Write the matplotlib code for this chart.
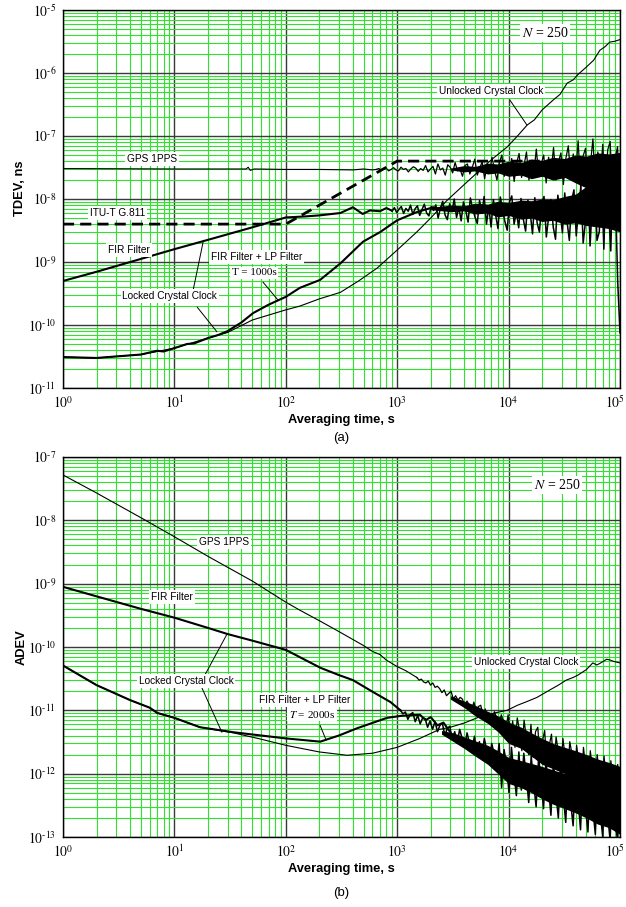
import numpy as np
import matplotlib
matplotlib.use("Agg")
import matplotlib.pyplot as plt
import matplotlib.transforms as mtransforms
from matplotlib.ticker import LogLocator, NullFormatter

# ============ data: (a) TDEV ============
itu_tau = [1, 100, 1000, 1e5]
itu_val = [4e-9, 4e-9, 4e-8, 4e-8]

gps_a_tau = [1, 10, 30, 44, 46, 48, 52, 100, 200, 400, 500, 600, 650]
gps_a_val = [3.05e-8, 3.0e-8, 3.0e-8, 3.0e-8, 3.2e-8, 2.85e-8, 3.0e-8, 2.95e-8,
             2.95e-8, 2.9e-8, 3.0e-8, 2.9e-8, 2.95e-8]
# noisy tail 650 s .. 1e5 s (x 1e-8)
gps_a_noise = [2.95, 3.05, 2.85, 3.0, 3.1, 2.8, 2.95, 3.15, 2.9, 2.8, 3.2, 2.95, 3.05, 2.7, 3.0, 3.25, 3.1, 2.75, 3.05, 2.85,
               3.4, 2.7, 3.0, 3.3, 2.5, 3.6, 2.9, 3.1, 2.4, 3.5, 3.2, 2.6, 3.8, 2.8, 3.0, 2.3, 3.4, 3.6, 2.5, 3.2,
               4.3, 2.4, 3.1, 3.9, 2.1, 3.5, 2.7, 4.6, 2.9, 2.0, 3.8, 5.0, 2.3, 3.2, 2.6, 4.4, 1.9, 3.7, 5.3, 2.2,
               3.4, 5.6, 2.0, 4.1, 2.6, 6.2, 2.3, 3.6, 5.0, 1.8, 4.6, 2.7, 6.6, 2.0, 3.9, 5.4, 1.7, 4.4, 7.0, 2.1,
               5.2, 2.5, 8.4, 1.5, 4.8, 6.4, 1.3, 3.6, 9.0, 1.6, 5.6, 2.2, 7.4, 1.1, 6.0, 8.2, 1.2, 4.2, 6.8, 1.0]
# dense core of that tail (x 1e-8)
gps_a_band_tau = [3000, 4000, 5000, 6500, 8000, 1e4, 1.3e4, 1.6e4, 2e4, 2.5e4, 3.2e4, 4e4, 5e4, 6.3e4, 8e4, 1e5]
gps_a_band_lo = [2.9, 2.7, 2.8, 2.5, 2.6, 2.3, 2.4, 2.1, 2.3, 2.0, 2.2, 1.8, 1.5, 1.4, 1.2, 1.0]
gps_a_band_hi = [3.1, 3.4, 3.3, 3.7, 3.6, 4.0, 3.8, 4.3, 4.1, 4.6, 4.4, 5.0, 4.8, 5.4, 5.2, 5.5]

fir_a_tau = [1, 2, 5, 10, 20, 50, 100, 150, 200, 309, 400, 490, 570, 700, 800, 900]
fir_a_val = [5.0e-10, 7.0e-10, 1.12e-9, 1.6e-9, 2.25e-9, 3.55e-9, 5.1e-9, 5.3e-9,
             5.5e-9, 6.0e-9, 7.4e-9, 5.8e-9, 6.6e-9, 6.4e-9, 7.2e-9, 6.5e-9]
# noisy tail 900 s .. 1e5 s (x 1e-9)
fir_a_noise = [6.5, 7.3, 6.1, 6.9, 7.6, 5.9, 7.1, 6.4, 8.0, 5.7, 7.0, 7.8, 5.5, 6.8, 8.3, 6.0, 5.4, 7.6, 6.6, 8.1,
               5.0, 7.2, 9.2, 5.6, 4.7, 8.4, 6.3, 10.0, 5.1, 7.4, 4.5, 9.0, 6.6, 4.3, 10.4, 7.0, 5.2, 4.1, 9.5, 6.0,
               11.0, 4.0, 7.6, 3.6, 9.8, 5.5, 3.4, 10.8, 6.8, 4.4, 3.2, 9.0, 11.2, 4.0, 6.2, 3.5, 10.2, 4.8, 3.1, 9.6,
               6.0, 2.8, 10.5, 4.2, 3.0, 8.6, 11.0, 2.5, 5.2, 9.8, 3.6, 2.3, 11.5, 6.2, 2.9, 12.5, 4.4, 2.2, 9.6, 14.0,
               2.6, 6.8, 16.0, 2.0, 4.4, 22.0, 1.8, 9.0, 28.0, 2.2, 3.0, 18.0, 1.6, 35.0, 7.0, 1.5, 40.0, 12.0, 0.5, 0.075]
fir_a_band_tau = [2000, 3000, 4000, 5000, 6500, 8000, 1e4, 1.3e4, 1.6e4, 2e4, 2.5e4, 3.2e4, 4e4, 5e4, 6.3e4, 8e4, 1e5]
fir_a_band_lo = [6.8, 6.3, 6.5, 5.8, 6.0, 5.2, 5.5, 4.8, 5.0, 4.4, 4.6, 4.0, 4.2, 3.8, 3.6, 3.4, 3.0]
fir_a_band_hi = [7.4, 8.0, 7.8, 8.6, 8.3, 9.2, 8.8, 9.6, 9.4, 10.0, 9.8, 11.0, 12.0, 16.0, 16.0, 15.0, 18.0]

firlp_a_tau = [1, 2, 5, 7, 8, 10, 13, 15, 20, 25, 30, 40, 51, 70, 100, 134, 203, 309,
               493, 705, 1000, 1500, 2100]
firlp_a_val = [3.1e-11, 3.0e-11, 3.4e-11, 3.9e-11, 3.8e-11, 4.3e-11, 5.0e-11, 5.1e-11,
               6.2e-11, 7.0e-11, 8.0e-11, 1.1e-10, 1.55e-10, 2.1e-10, 2.8e-10, 3.9e-10,
               5.2e-10, 9.5e-10, 2.1e-9, 3.0e-9, 4.6e-9, 6.2e-9, 7.4e-9]

unl_a_tau = [1, 2, 5, 7, 10, 20, 30, 50, 100, 134, 200, 309, 450, 660, 1000, 1500, 2000,
             2800, 4000, 5200, 7000, 9700, 12000, 14700, 17000, 20000, 25000, 29000, 33500,
             38000, 42000, 50000, 58000, 66000, 73000, 81000, 90000, 1e5]
unl_a_val = [3.1e-11, 3.0e-11, 3.4e-11, 3.8e-11, 4.3e-11, 6.2e-11, 7.6e-11, 1.2e-10,
             1.74e-10, 2.0e-10, 2.6e-10, 3.3e-10, 5.0e-10, 8.0e-10, 1.55e-9, 3.0e-9, 5.0e-9,
             9.5e-9, 1.7e-8, 2.6e-8, 4.2e-8, 6.7e-8, 1.0e-7, 1.5e-7, 1.8e-7, 2.6e-7, 3.7e-7,
             4.6e-7, 6.9e-7, 7.8e-7, 9.5e-7, 1.25e-6, 1.6e-6, 2.3e-6, 2.6e-6, 3.1e-6, 3.2e-6, 3.4e-6]

# ============ data: (b) ADEV ============
gps_b_tau = [1, 2, 5, 10, 20, 50, 100, 134, 200, 300, 500, 600, 700, 800, 1000, 1200, 1500]
gps_b_val = [5.2e-8, 2.7e-8, 1.1e-8, 5.5e-9, 2.7e-9, 1.1e-9, 5.1e-10, 3.8e-10, 2.6e-10,
             1.75e-10, 1.05e-10, 8.5e-11, 7.6e-11, 6.2e-11, 4.9e-11, 4.2e-11, 3.3e-11]
# noisy tail 1500 s .. 1e5 s (x 1e-12)
gps_b_noise = [33, 30, 31, 28, 27, 29, 25, 27, 23, 24,
               22, 19, 21, 17, 18.5, 20, 15, 17, 14.5, 16,
               15, 11.5, 14, 12, 10, 13.5, 9.5, 11.5, 12, 8.5,
               10.5, 7, 9, 6.2, 9.5, 7.5, 5.5, 8.5, 6.5, 5.0,
               8.5, 3.4, 6.8, 2.6, 7.6, 4.8, 2.3, 7.0, 3.6, 2.0,
               6.0, 1.8, 4.6, 5.4, 1.5, 3.2, 4.8, 1.3, 2.8, 4.2,
               1.1, 3.8, 2.2, 0.95, 3.6, 1.8, 0.85, 3.2, 2.0, 0.75,
               2.8, 1.4, 0.6, 2.6, 1.2, 0.5, 2.3, 1.1, 0.45, 2.0,
               0.9, 0.38, 1.9, 0.8, 0.32, 1.6, 0.7, 0.28, 1.4, 0.4]
gps_b_band_tau = [3000, 4000, 5000, 6500, 8000, 1e4, 1.3e4, 1.6e4, 2e4, 2.5e4, 3.2e4, 4e4, 5e4, 6.3e4, 8e4, 1e5]
gps_b_band_lo = [15, 11.0, 8.2, 6.2, 4.6, 3.0, 2.5, 1.9, 1.4, 1.2, 1.0, 0.85, 0.7, 0.55, 0.45, 0.4]
gps_b_band_hi = [17, 14.0, 12.0, 9.6, 8.2, 6.5, 5.4, 4.4, 3.6, 3.0, 2.6, 2.3, 2.0, 1.7, 1.5, 1.3]

fir_b_tau = [1, 2, 5, 10, 20, 30, 50, 100, 204, 300, 400, 605, 870, 1070]
fir_b_val = [8.9e-10, 6.3e-10, 4.0e-10, 2.9e-10, 2.0e-10, 1.6e-10, 1.26e-10, 9.0e-11,
             4.7e-11, 3.6e-11, 3.0e-11, 1.95e-11, 1.35e-11, 1.0e-11]
# noisy tail 1070 s .. 1e5 s (x 1e-12)
fir_b_noise = [10, 8.8, 9.4, 7.2, 8.6, 9.2, 6.6, 8.3, 6.1, 7.6,
               7.4, 5.4, 6.8, 5.0, 6.6, 4.6, 5.8, 6.2, 4.0, 5.2,
               5.6, 3.4, 4.6, 3.0, 5.0, 3.6, 2.6, 4.4, 3.0, 2.4,
               3.9, 2.0, 3.2, 1.8, 3.6, 2.3, 1.5, 3.0, 2.0, 1.3,
               3.0, 0.6, 2.4, 1.4, 0.5, 2.6, 1.0, 0.45, 2.2, 0.55,
               2.1, 0.9, 0.35, 1.9, 0.7, 0.3, 1.8, 0.8, 0.28, 1.6,
               0.6, 0.22, 1.5, 0.5, 0.2, 1.4, 0.45, 0.17, 1.25, 0.35,
               0.15, 1.15, 0.4, 0.13, 1.1, 0.3, 0.12, 1.0, 0.28, 0.11,
               0.95, 0.25, 0.1, 0.9, 0.22, 0.09, 0.85, 0.2, 0.085, 0.5]
fir_b_band_tau = [2500, 3200, 4000, 5000, 6500, 8000, 1e4, 1.3e4, 1.6e4, 2e4, 2.5e4, 3.2e4, 4e4, 5e4, 6.3e4, 8e4, 1e5]
fir_b_band_lo = [4.2, 3.2, 2.5, 1.9, 1.4, 1.0, 0.7, 0.6, 0.5, 0.4, 0.33, 0.28, 0.24, 0.2, 0.16, 0.14, 0.11]
fir_b_band_hi = [4.8, 4.4, 3.8, 3.3, 2.8, 2.3, 1.8, 1.6, 1.45, 1.3, 1.15, 1.0, 0.95, 0.85, 0.78, 0.7, 0.6]

firlp_b_tau = [1, 2, 4, 6, 7, 10, 17, 34, 60, 100, 204, 300, 436, 810, 1100, 1380, 1600,
               1800, 2000, 2300, 2600, 3000]
firlp_b_val = [5.1e-11, 2.5e-11, 1.45e-11, 1.1e-11, 9.1e-12, 7.6e-12, 5.4e-12, 4.5e-12,
               4.0e-12, 3.6e-12, 3.2e-12, 4.0e-12, 5.2e-12, 7.6e-12, 8.2e-12, 8.4e-12, 8.5e-12,
               7.0e-12, 7.8e-12, 5.8e-12, 6.4e-12, 4.5e-12]

unl_b_tau = [1, 2, 4, 6, 7, 10, 17, 34, 60, 100, 200, 355, 600, 1000, 1600, 2400, 3000,
             4000, 5900, 9700, 12000, 15000, 18000, 23500, 28000, 33000, 38000, 42000,
             50000, 57000, 62000, 66000, 76000, 82000, 88000, 1e5]
unl_b_val = [5.1e-11, 2.5e-11, 1.45e-11, 1.1e-11, 9.1e-12, 7.6e-12, 5.4e-12, 4.4e-12,
             3.5e-12, 2.8e-12, 2.2e-12, 1.95e-12, 2.1e-12, 2.6e-12, 3.6e-12, 5.0e-12, 5.4e-12,
             6.3e-12, 8.3e-12, 1.0e-11, 1.2e-11, 1.4e-11, 1.6e-11, 2.1e-11, 2.5e-11, 3.0e-11,
             3.3e-11, 3.6e-11, 4.4e-11, 5.6e-11, 5.2e-11, 5.5e-11, 6.4e-11, 6.2e-11, 5.9e-11, 5.6e-11]

x_exps = [0, 1, 2, 3, 4, 5]

# ============ style ============
plt.rcParams["font.family"] = ["Liberation Sans", "DejaVu Sans"]
plt.rcParams["mathtext.fontset"] = "stix"

THIN = 0.8
THICK = 1.5
LBL = 7.3
box = dict(facecolor="white", edgecolor="none", pad=1.3)
serif = ["Liberation Serif", "DejaVu Serif"]


def pow_label(e):
    # hyphen instead of a wide minus, like the original figure
    return r"$10^{%s}$" % (str(e).replace("-", "\u2010"))


def style_axes(ax, ylo, yhi, ylabel, ylab_y, ylab_x):
    ax.set_xscale("log")
    ax.set_yscale("log")
    ax.set_xlim(1, 1e5)
    ax.set_ylim(ylo, yhi)
    ax.set_xticks([10.0 ** e for e in x_exps])
    ax.set_xticklabels([pow_label(e) for e in x_exps])
    ax.xaxis.set_minor_locator(LogLocator(base=10, subs=np.arange(2, 10), numticks=20))
    ax.xaxis.set_minor_formatter(NullFormatter())
    exps = range(int(round(np.log10(ylo))), int(round(np.log10(yhi))) + 1)
    ax.set_yticks([10.0 ** e for e in exps])
    ax.set_yticklabels([pow_label(e) for e in exps])
    ax.yaxis.set_minor_locator(LogLocator(base=10, subs=np.arange(2, 10), numticks=20))
    ax.yaxis.set_minor_formatter(NullFormatter())
    ax.grid(which="minor", color="#2ee22e", lw=0.8)
    ax.grid(which="major", color="#3a3a3a", lw=1.0)
    ax.set_axisbelow(True)
    ax.tick_params(which="both", length=0, labelsize=9.8, pad=5)
    for s in ax.spines.values():
        s.set_linewidth(1.0)
    # last x label sits a little left of the axis end
    last = ax.xaxis.get_major_ticks()[-1].label1
    last.set_transform(last.get_transform() +
                       mtransforms.ScaledTranslation(-0.05, 0, fig.dpi_scale_trans))
    ax.set_xlabel("Averaging time, s", fontweight="bold", fontsize=9.3)
    ax.xaxis.set_label_coords(0.5, -0.084)
    ax.xaxis.label.set_va("center")
    ax.set_ylabel(ylabel, fontweight="bold", fontsize=9.3)
    ax.yaxis.set_label_coords(ylab_x, ylab_y)
    ax.yaxis.label.set_va("center")


def pointer(ax, p1, p2):
    ax.annotate("", xy=p2, xytext=p1,
                arrowprops=dict(arrowstyle="-", lw=0.7, color="black",
                                shrinkA=0, shrinkB=0), zorder=6)


def label(ax, x, y, s, **kw):
    opts = dict(fontsize=LBL, ha="center", va="center", bbox=box, zorder=7)
    opts.update(kw)
    ax.text(x, y, s, **opts)


fig = plt.figure(figsize=(6.26, 9.07), dpi=100)
ax1 = fig.add_axes([0.1006, 0.5722, 0.8898, 0.4167])
ax2 = fig.add_axes([0.1006, 0.0772, 0.8898, 0.4190])

# ============ (a) ============
ax = ax1
ax.plot(itu_tau, itu_val, color="black", lw=2.0, ls=(0, (4, 2.2)), zorder=3)
ax.plot(gps_a_tau, gps_a_val, color="black", lw=THIN, zorder=4)
ax.fill_between(gps_a_band_tau, np.array(gps_a_band_lo) * 1e-8, np.array(gps_a_band_hi) * 1e-8,
                color="black", lw=0, zorder=4)
ax.plot(np.geomspace(650, 1e5, len(gps_a_noise)), np.array(gps_a_noise) * 1e-8,
        color="black", lw=0.9, zorder=4)
ax.plot(fir_a_tau, fir_a_val, color="black", lw=THICK, zorder=4)
ax.fill_between(fir_a_band_tau, np.array(fir_a_band_lo) * 1e-9, np.array(fir_a_band_hi) * 1e-9,
                color="black", lw=0, zorder=4)
ax.plot(np.geomspace(900, 1e5, len(fir_a_noise)), np.array(fir_a_noise) * 1e-9,
        color="black", lw=1.1, zorder=4)
ax.plot(firlp_a_tau, firlp_a_val, color="black", lw=THICK, zorder=4)
ax.plot(unl_a_tau, unl_a_val, color="black", lw=THIN, zorder=4)

label(ax, 21200, 4.3e-6, r"$N$ = 250", fontsize=10, family=serif)
label(ax, 6950, 5.2e-7, "Unlocked Crystal Clock")
label(ax, 6.3, 4.3e-8, "GPS 1PPS")
label(ax, 3.1, 6.0e-9, "ITU-T G.811")
label(ax, 3.9, 1.55e-9, "FIR Filter")
label(ax, 55, 1.2e-9, "FIR Filter + LP Filter")
label(ax, 52, 6.7e-10, "T = 1000s", fontsize=8, family=serif)
label(ax, 9.1, 2.9e-10, "Locked Crystal Clock")
pointer(ax, (10300, 3.7e-7), (14600, 1.5e-7))
pointer(ax, (14.7, 3.5e-10), (18.1, 2.07e-9))
pointer(ax, (16, 1.93e-10), (24.1, 7.8e-11))
pointer(ax, (62.4, 4.8e-10), (85, 2.5e-10))
style_axes(ax, 1e-11, 1e-5, "TDEV, ns", 0.529, -0.0772)

# ============ (b) ============
ax = ax2
ax.plot(gps_b_tau, gps_b_val, color="black", lw=THIN, zorder=4)
ax.fill_between(gps_b_band_tau, np.array(gps_b_band_lo) * 1e-12, np.array(gps_b_band_hi) * 1e-12,
                color="black", lw=0, zorder=4)
ax.plot(np.geomspace(1500, 1e5, len(gps_b_noise)), np.array(gps_b_noise) * 1e-12,
        color="black", lw=0.9, zorder=4)
ax.plot(fir_b_tau, fir_b_val, color="black", lw=THICK, zorder=4)
ax.fill_between(fir_b_band_tau, np.array(fir_b_band_lo) * 1e-12, np.array(fir_b_band_hi) * 1e-12,
                color="black", lw=0, zorder=4)
ax.plot(np.geomspace(1070, 1e5, len(fir_b_noise)), np.array(fir_b_noise) * 1e-12,
        color="black", lw=1.1, zorder=4)
ax.plot(firlp_b_tau, firlp_b_val, color="black", lw=THICK, zorder=4)
ax.plot(unl_b_tau, unl_b_val, color="black", lw=THIN, zorder=4)

label(ax, 27200, 3.6e-8, r"$N$ = 250", fontsize=10, family=serif)
label(ax, 27.9, 4.5e-9, "GPS 1PPS")
label(ax, 9.5, 6.1e-10, "FIR Filter")
label(ax, 12.7, 2.9e-11, "Locked Crystal Clock")
label(ax, 149, 1.45e-11, "FIR Filter + LP Filter")
label(ax, 172, 8.7e-12, r"$T$ = 2000s", fontsize=8, family=serif)
label(ax, 14300, 5.8e-11, "Unlocked Crystal Clock")
pointer(ax, (18.1, 3.2e-11), (29.7, 1.6e-10))
pointer(ax, (17.7, 2.24e-11), (26.7, 4.5e-12))
pointer(ax, (203, 5.8e-12), (230, 3.4e-12))
style_axes(ax, 1e-13, 1e-7, "ADEV", 0.5, -0.0736)

fig.text(341 / 626, 1 - 438 / 907, "(a)", fontsize=9.5, ha="center", va="center")
fig.text(341 / 626, 1 - 893 / 907, "(b)", fontsize=9.5, ha="center", va="center")

plt.savefig("out.png", dpi=100)
